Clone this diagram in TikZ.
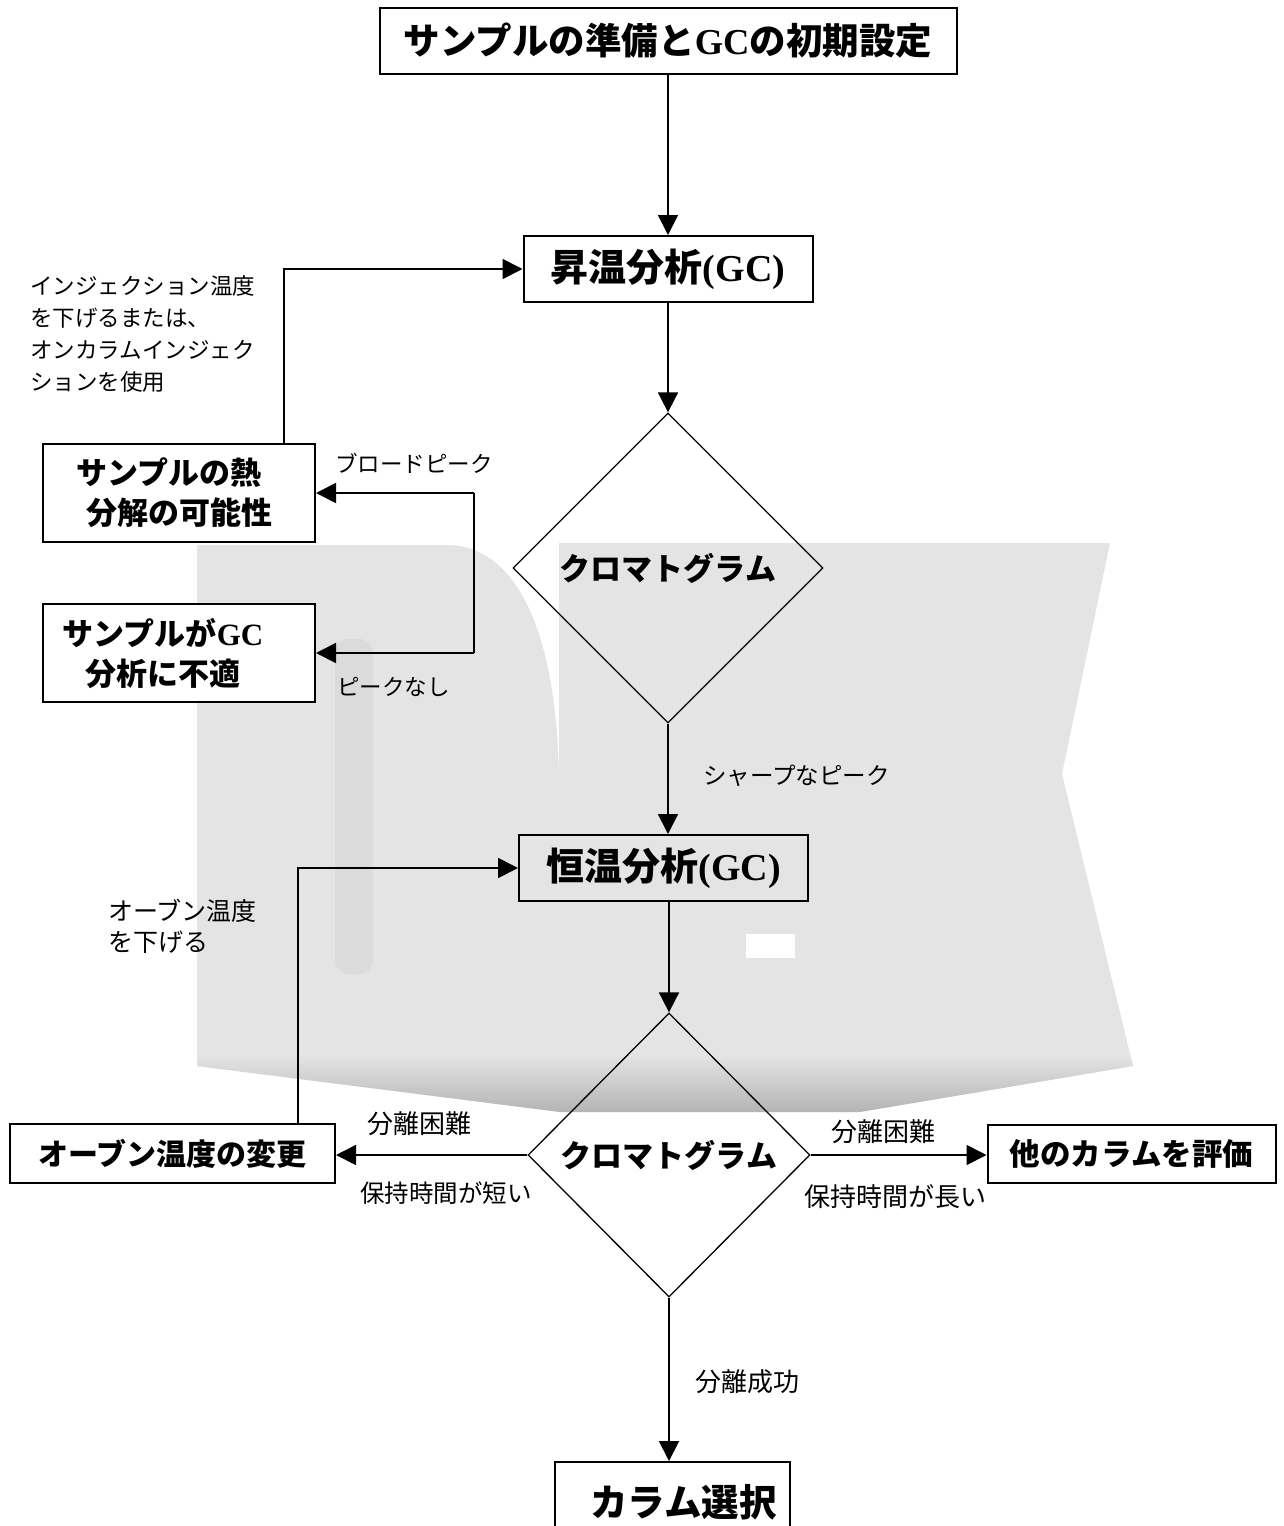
\documentclass[tikz,border=0pt]{standalone}
\usepackage{fontspec}
\setmainfont{Noto Sans CJK JP}
\newfontfamily\tnr{Liberation Serif}
\usetikzlibrary{shapes.geometric,arrows.meta,calc}
\definecolor{wm}{HTML}{E4E4E4}
\definecolor{wmdark}{HTML}{DBDBDB}
\newcommand{\fsz}[2]{\fontsize{#1}{#2}\selectfont}
\begin{document}
\begin{tikzpicture}[x=1pt,y=-1pt,
  box/.style={draw, line width=2pt, fill=white, inner sep=0pt},
  dia/.style={diamond, draw, line width=1.3pt, inner sep=0pt},
  arr/.style={line width=1.8pt, -{Triangle[length=20pt,width=20pt]}},
  conn/.style={line width=1.8pt},
  lab/.style={inner sep=0pt, align=left, anchor=west}]
\useasboundingbox (0,0) rectangle (1284,1526);
\clip (0,0) rectangle (1284,1526);
% watermark
\def\wmpath{(197,545) -- (450,545) .. controls (520,548) and (559,640) .. (559,790) -- (559,543) -- (1110,543) -- (1062,774) -- (1133,1066) -- (860,1112) -- (560,1112) -- (197,1066) -- cycle}
\fill[wm] \wmpath;
\begin{scope}
  \clip \wmpath;
  \fill[wmdark, rounded corners=14pt] (335,639) rectangle (373,974);
  \shade[top color=wm, bottom color=gray!60] (0,1055) rectangle (1284,1114);
\end{scope}
\fill[white] (746,934) rectangle (795,958);
% nodes
\node[box, minimum width=577pt, minimum height=66pt, font=\bfseries\fsz{36.5}{40}] (start) at (668,41) {サンプルの準備と{\tnr GC}の初期設定};
\node[box, minimum width=289pt, minimum height=66pt, font=\bfseries\fsz{38}{44}] (rise) at (668,269) {昇温分析{\tnr(GC)}};
\node[dia, minimum width=310pt, minimum height=310pt, font=\bfseries\fsz{31}{36}] (chromA) at (668,568) {クロマトグラム};
\node[box, fill=none, minimum width=289pt, minimum height=66pt, font=\bfseries\fsz{38}{44}] (iso) at (663.5,868) {恒温分析{\tnr(GC)}};
\node[dia, minimum width=282pt, minimum height=284pt, font=\bfseries\fsz{31}{36}] (chromB) at (669,1155) {クロマトグラム};
\node[box, minimum width=325pt, minimum height=59pt, font=\bfseries\fsz{30}{36}] (oven) at (172.5,1153.5) {オーブン温度の変更};
\node[box, minimum width=288pt, minimum height=58pt, font=\bfseries\fsz{30.5}{36}] (other) at (1131.5,1154) {他のカラムを評価};
\node[box, minimum width=235pt, minimum height=80pt, font=\bfseries\fsz{37.5}{40}] (select) at (672.5,1502) {\hspace*{22pt}カラム選択};
\node[box, minimum width=272pt, minimum height=98pt, align=center, font=\bfseries\fsz{31}{40}] (heat) at (179,493) {サンプルの熱\hspace*{20pt}\\分解の可能性};
\node[box, minimum width=272pt, minimum height=98pt, align=center, font=\bfseries\fsz{31}{40}] (unfit) at (179,653) {サンプルが{\tnr GC}\hspace*{32pt}\\分析に不適\hspace*{32pt}};
% connectors
\draw[arr] (start) -- (rise);
\draw[arr] (rise) -- (chromA.north);
\draw[arr] (chromA.south) -- (chromA.south |- iso.north);
\draw[arr] (chromB.north |- iso.south) -- (chromB.north);
\draw[arr] (chromB.west) -- (chromB.west -| oven.east);
\draw[arr] (chromB.east) -- (chromB.east -| other.west);
\draw[arr] (chromB.south) -- (chromB.south |- select.north);
\draw[arr] ([xshift=-32pt]heat.north east) |- (rise.west);
\coordinate (split) at (474,573);
\draw[conn] (split |- heat.east) -- (split |- unfit.east);
\draw[arr] (split |- heat.east) -- (heat.east);
\draw[arr] (split |- unfit.east) -- (unfit.east);
\draw[arr] ([xshift=-38pt]oven.north east) |- (iso.west);
% labels
\node[lab, anchor=north west, font=\fsz{22.5}{32}] (lInj) at (30,275) {インジェクション温度\\を下げるまたは、\\オンカラムインジェク\\ションを使用};
\node[lab, anchor=north west, font=\fsz{25}{31}] (lOven) at (108,899) {オーブン温度\\を下げる};
\node[lab, font=\fsz{22.5}{28}] (lBroad) at (335,463) {ブロードピーク};
\node[lab, font=\fsz{22.5}{28}] (lNone) at (337,687) {ピークなし};
\node[lab, font=\fsz{23.5}{28}] (lSharp) at (703,776) {シャープなピーク};
\node[lab, font=\fsz{26}{30}] (lDiffL) at (367,1124) {分離困難};
\node[lab, font=\fsz{24.5}{30}] (lShort) at (360,1193.5) {保持時間が短い};
\node[lab, font=\fsz{26}{30}] (lDiffR) at (831,1131.5) {分離困難};
\node[lab, font=\fsz{26}{30}] (lLong) at (804,1197) {保持時間が長い};
\node[lab, font=\fsz{26}{30}] (lOK) at (695,1381.5) {分離成功};
\end{tikzpicture}
\end{document}
